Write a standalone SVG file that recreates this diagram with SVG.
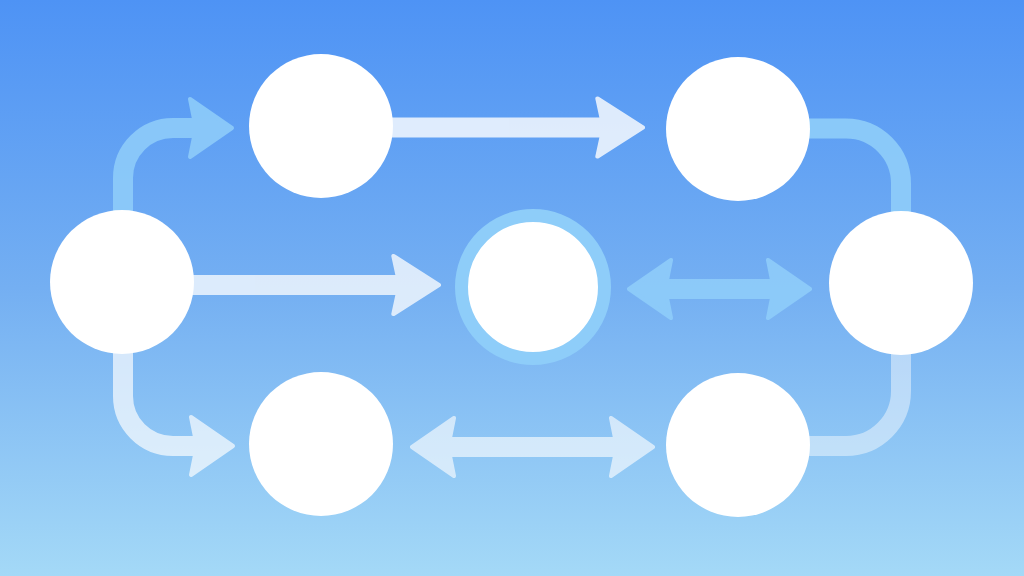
<svg xmlns="http://www.w3.org/2000/svg" width="1024" height="576" viewBox="0 0 1024 576">
  <defs>
    <linearGradient id="bg" x1="0" y1="0" x2="0" y2="1">
      <stop offset="0" stop-color="#4e93f5"/>
      <stop offset="0.5" stop-color="#74aff2"/>
      <stop offset="1" stop-color="#a4d9f7"/>
    </linearGradient>
    <path id="head" d="M-2,0 L-44,-29 L-40,-9 L-40,9 L-44,29 Z"/>
    <style>
      .shaft { fill: none; stroke-width: 20; stroke-linecap: butt; }
      .blue { stroke: #8fcdfa; fill: #8fcdfa; }
      .white { stroke: #ffffff; fill: #ffffff; }
      .hd { stroke-width: 4; stroke-linejoin: round; }
      .node { fill: #ffffff; }
      .ring { fill: #ffffff; stroke: #8ecdf9; stroke-width: 13; }
    </style>
  </defs>
  <rect x="0" y="0" width="1024" height="576" fill="url(#bg)"/>

  <g id="connectors">
    <g id="c-left-topleft" class="blue" opacity="0.88">
      <path class="shaft" d="M123,215 V178 A50,50 0 0 1 173,128 H196"/>
      <use href="#head" class="hd" transform="translate(234,128)"/>
    </g>
    <g id="c-topleft-topright" class="white" opacity="0.8">
      <path class="shaft" d="M380,127.5 H602"/>
      <use href="#head" class="hd" transform="translate(645,127.5) scale(1.08,1)"/>
    </g>
    <g id="c-topright-right" class="blue" opacity="0.9">
      <path class="shaft" d="M800,128.5 H846 A55,55 0 0 1 901,183.5 V230"/>
    </g>
    <g id="c-right-bottomright" class="white" opacity="0.45">
      <path class="shaft" d="M901,340 V391 A55,55 0 0 1 846,446 H800"/>
    </g>
    <g id="c-left-bottomleft" class="white" opacity="0.68">
      <path class="shaft" d="M123,350 V396 A50,50 0 0 0 173,446 H197"/>
      <use href="#head" class="hd" transform="translate(235,446)"/>
    </g>
    <g id="c-left-center" class="white" opacity="0.75">
      <path class="shaft" d="M185,285 H398"/>
      <use href="#head" class="hd" transform="translate(441,285) scale(1.08,1)"/>
    </g>
    <g id="c-center-right" class="blue" opacity="0.9">
      <path class="shaft" d="M665,289 H775"/>
      <use href="#head" class="hd" transform="translate(627,289) rotate(180)"/>
      <use href="#head" class="hd" transform="translate(812,289)"/>
    </g>
    <g id="c-bottomleft-bottomright" class="white" opacity="0.62">
      <path class="shaft" d="M448,447 H617"/>
      <use href="#head" class="hd" transform="translate(410,447) rotate(180)"/>
      <use href="#head" class="hd" transform="translate(655,447)"/>
    </g>
  </g>

  <g id="node-left"><circle class="node" cx="122" cy="282" r="72"/></g>
  <g id="node-topleft"><circle class="node" cx="321" cy="126" r="72"/></g>
  <g id="node-topright"><circle class="node" cx="738" cy="129" r="72"/></g>
  <g id="node-right"><circle class="node" cx="901" cy="283" r="72"/></g>
  <g id="node-center"><circle class="ring" cx="533" cy="287" r="71.5"/></g>
  <g id="node-bottomleft"><circle class="node" cx="321" cy="444" r="72"/></g>
  <g id="node-bottomright"><circle class="node" cx="738" cy="445" r="72"/></g>
</svg>
